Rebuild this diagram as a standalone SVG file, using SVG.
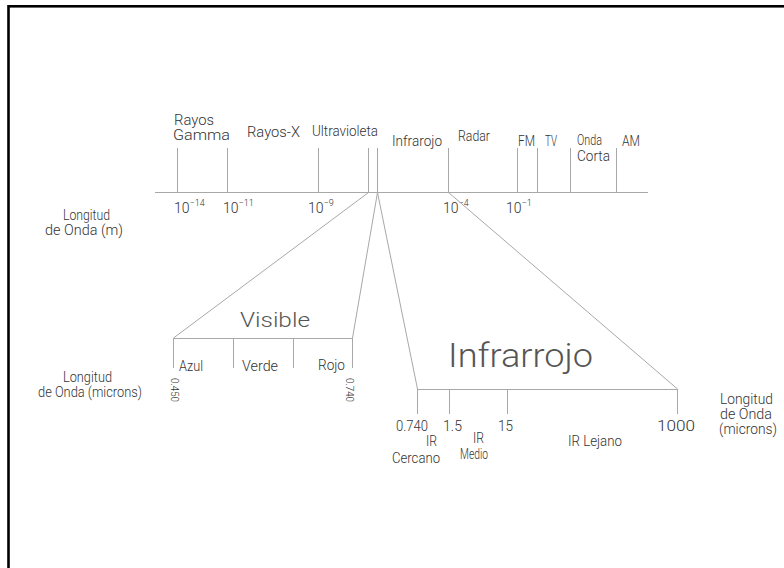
<svg xmlns="http://www.w3.org/2000/svg" width="784" height="568" viewBox="0 0 784 568">
  <style>
    .ln { stroke: #a8a8a8; stroke-width: 1; fill: none; }
    .t { font-family: Roboto, "Liberation Sans", Arial, sans-serif; font-weight: 300; font-size: 14px; fill: #333; }
    .s { font-size: 9px; }
    .v { font-family: Roboto, "Liberation Sans", Arial, sans-serif; font-weight: 300; font-size: 10px; fill: #333; }
    .big { font-family: Roboto, "Liberation Sans", sans-serif; font-weight: 300; fill: #555; }
  </style>

  <rect x="0" y="0" width="784" height="568" fill="#fff"/>
  <!-- drawing frame -->
  <rect x="8.5" y="6.3" width="900" height="700" fill="none" stroke="#000" stroke-width="2.6"/>

  <!-- electromagnetic spectrum scale -->
  <g id="spectrum-scale">
    <path class="ln" d="M155 192.5H648
      M177.5 148V192 M227.5 148V192 M318.5 148V192 M368.5 148V192 M377.5 148V192
      M448.5 148V192 M517.5 148V192 M537.5 148V192 M570.5 148V192 M616.5 148V192"/>
    <text class="t" x="174" y="125" textLength="40" lengthAdjust="spacingAndGlyphs">Rayos</text>
    <text class="t" x="173" y="140" textLength="57" lengthAdjust="spacingAndGlyphs">Gamma</text>
    <text class="t" x="247" y="137" textLength="53" lengthAdjust="spacingAndGlyphs">Rayos-X</text>
    <text class="t" x="312" y="136" textLength="66" lengthAdjust="spacingAndGlyphs">Ultravioleta</text>
    <text class="t" x="392" y="146" textLength="50" lengthAdjust="spacingAndGlyphs">Infrarojo</text>
    <text class="t" x="458" y="141" textLength="32" lengthAdjust="spacingAndGlyphs">Radar</text>
    <text class="t" x="518" y="146" textLength="17" lengthAdjust="spacingAndGlyphs">FM</text>
    <text class="t" x="545" y="146" textLength="12" lengthAdjust="spacingAndGlyphs">TV</text>
    <text class="t" x="577" y="145" textLength="25" lengthAdjust="spacingAndGlyphs">Onda</text>
    <text class="t" x="577" y="161" textLength="33" lengthAdjust="spacingAndGlyphs">Corta</text>
    <text class="t" x="622" y="146" textLength="18" lengthAdjust="spacingAndGlyphs">AM</text>

    <text class="t" x="174" y="213">10<tspan class="s" dy="-7">−14</tspan></text>
    <text class="t" x="223" y="213">10<tspan class="s" dy="-7">−11</tspan></text>
    <text class="t" x="308" y="213">10<tspan class="s" dy="-7">−9</tspan></text>
    <text class="t" x="443" y="213">10<tspan class="s" dy="-7">−4</tspan></text>
    <text class="t" x="506" y="213">10<tspan class="s" dy="-7">−1</tspan></text>

    <text class="t" x="63" y="220" textLength="47" lengthAdjust="spacingAndGlyphs">Longitud</text>
    <text class="t" x="45" y="235" textLength="78" lengthAdjust="spacingAndGlyphs">de Onda (m)</text>
  </g>

  <!-- projection lines from the scale to the enlarged bands -->
  <g id="connectors">
    <path class="ln" d="M368.5 192.5L173.5 338 M377.5 192.5L352.5 338 M377.5 192.5L417.5 389 M448.5 192.5L677.5 389"/>
  </g>

  <!-- visible band -->
  <g id="visible-band">
    <path class="ln" d="M173.5 338.5H352.5 M173.5 338V368 M233.5 338V368 M293.5 338V368 M352.5 338V368"/>
    <text class="big" x="240" y="327" font-size="21" textLength="70" lengthAdjust="spacingAndGlyphs">Visible</text>
    <text class="t" x="179" y="371" textLength="24" lengthAdjust="spacingAndGlyphs">Azul</text>
    <text class="t" x="242" y="371" textLength="36" lengthAdjust="spacingAndGlyphs">Verde</text>
    <text class="t" x="318" y="370" textLength="27" lengthAdjust="spacingAndGlyphs">Rojo</text>
    <text class="v" transform="translate(171 378) rotate(90)" textLength="24" lengthAdjust="spacingAndGlyphs">0.450</text>
    <text class="v" transform="translate(346 378) rotate(90)" textLength="24" lengthAdjust="spacingAndGlyphs">0.740</text>
    <text class="t" x="63" y="382" textLength="49" lengthAdjust="spacingAndGlyphs">Longitud</text>
    <text class="t" x="38" y="397" textLength="104" lengthAdjust="spacingAndGlyphs">de Onda (microns)</text>
  </g>

  <!-- infrared band -->
  <g id="infrared-band">
    <path class="ln" d="M417.5 389.5H677.5 M417.5 389V414 M449.5 389V414 M507.5 389V414 M677.5 389V414"/>
    <text class="big" x="448" y="367" font-size="34" textLength="145" lengthAdjust="spacingAndGlyphs">Infrarrojo</text>
    <text class="t" x="396" y="431" textLength="32" lengthAdjust="spacingAndGlyphs">0.740</text>
    <text class="t" x="443" y="431" textLength="19" lengthAdjust="spacingAndGlyphs">1.5</text>
    <text class="t" x="498" y="431" textLength="15" lengthAdjust="spacingAndGlyphs">15</text>
    <text class="t" x="657" y="431" textLength="38" lengthAdjust="spacingAndGlyphs">1000</text>
    <text class="t" x="426" y="446" textLength="11" lengthAdjust="spacingAndGlyphs">IR</text>
    <text class="t" x="473" y="443" textLength="11" lengthAdjust="spacingAndGlyphs">IR</text>
    <text class="t" x="568" y="446" textLength="54" lengthAdjust="spacingAndGlyphs">IR Lejano</text>
    <text class="t" x="392" y="463" textLength="48" lengthAdjust="spacingAndGlyphs">Cercano</text>
    <text class="t" x="460" y="459" textLength="28" lengthAdjust="spacingAndGlyphs">Medio</text>
    <text class="t" x="720" y="404" textLength="53" lengthAdjust="spacingAndGlyphs">Longitud</text>
    <text class="t" x="720" y="419" textLength="52" lengthAdjust="spacingAndGlyphs">de Onda</text>
    <text class="t" x="719" y="434" textLength="58" lengthAdjust="spacingAndGlyphs">(microns)</text>
  </g>
</svg>
